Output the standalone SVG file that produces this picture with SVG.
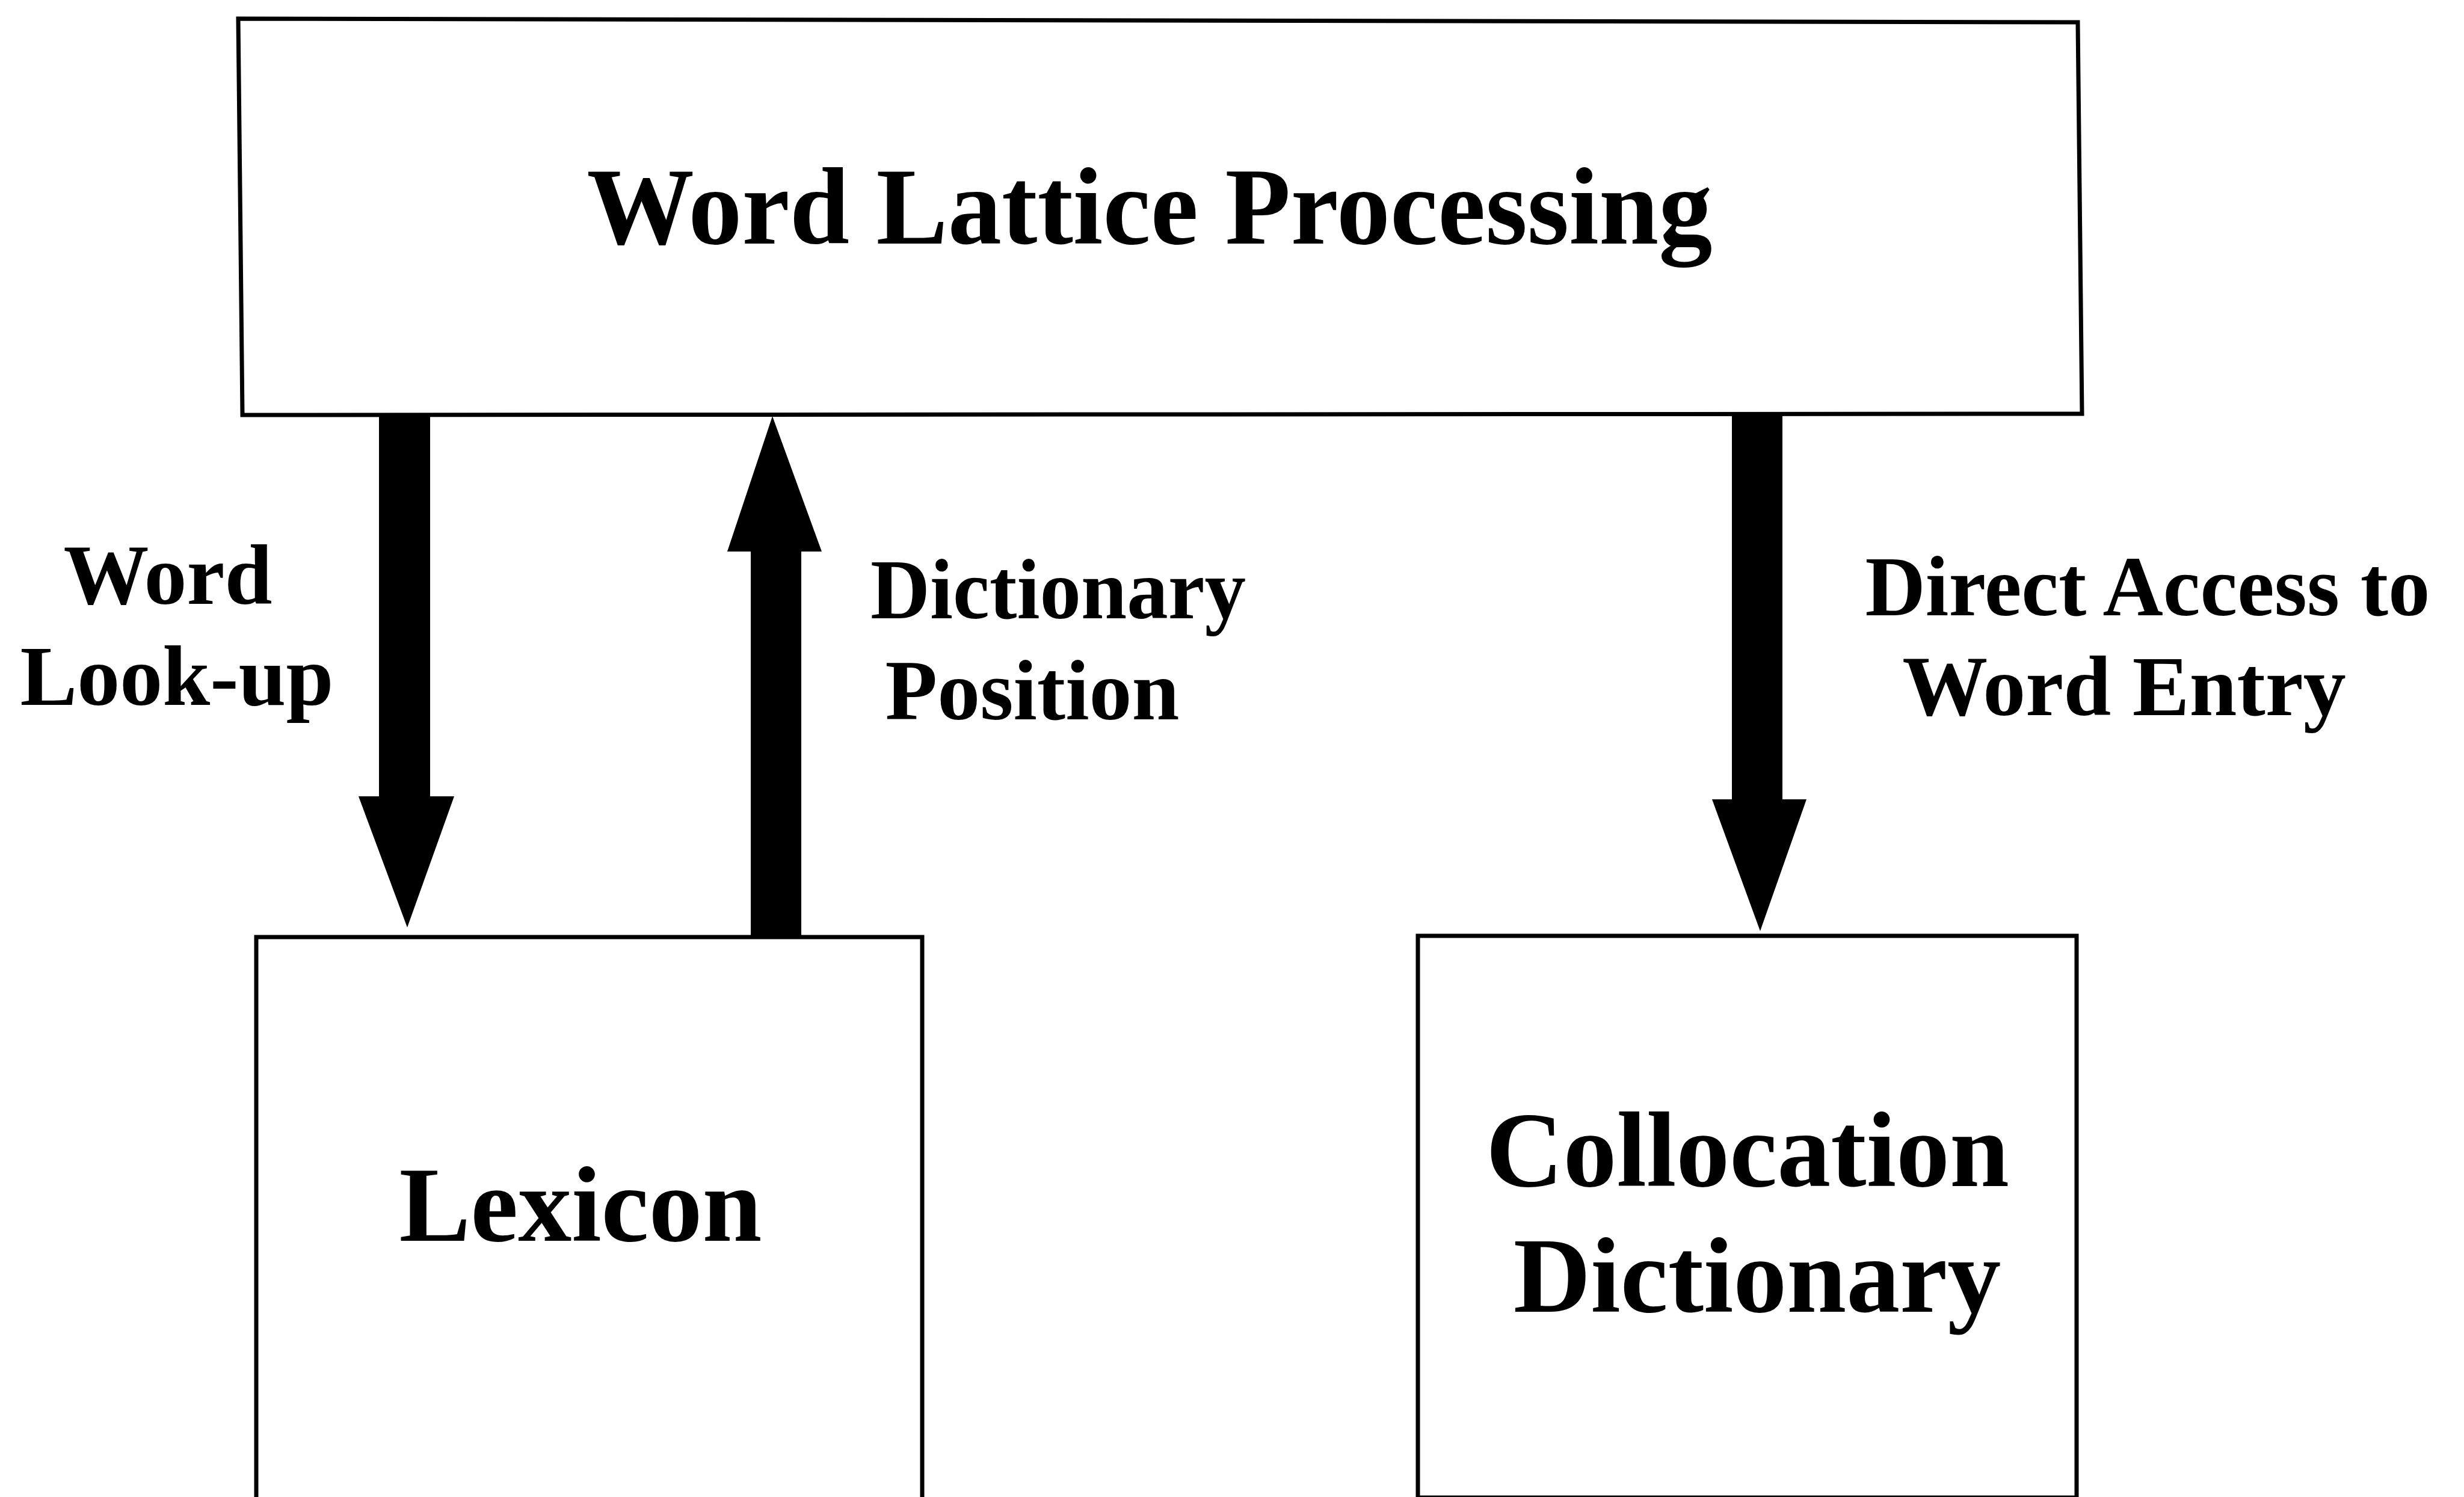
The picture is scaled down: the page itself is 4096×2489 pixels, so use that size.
<svg xmlns="http://www.w3.org/2000/svg" width="4096" height="2489" viewBox="0 0 4096 2489">
  <style>
    .box { fill: #ffffff; stroke: #000000; stroke-width: 7; stroke-linejoin: miter; }
    .arrow { fill: #000000; stroke: none; }
    .title { font-family: "Liberation Serif", "Times New Roman", serif; font-weight: bold; font-size: 182px; fill: #000000; text-anchor: middle; }
    .label { font-family: "Liberation Serif", "Times New Roman", serif; font-weight: bold; font-size: 142px; fill: #000000; text-anchor: middle; }
    .store { font-family: "Liberation Serif", "Times New Roman", serif; font-weight: bold; font-size: 178px; fill: #000000; text-anchor: middle; }
  </style>
  <rect x="0" y="0" width="4096" height="2489" fill="#ffffff"/>

  <!-- Top processing stage -->
  <g id="word-lattice-processing">
    <path class="box" d="M396,31 L3454,37 L3461,688 L403,690 Z"/>
    <text class="title" x="1911" y="405" textLength="1871" lengthAdjust="spacingAndGlyphs">Word Lattice Processing</text>
  </g>

  <!-- Lexicon store (runs past the lower edge) -->
  <g id="lexicon">
    <rect class="box" x="426" y="1558" width="1107" height="960"/>
    <text class="store" x="965" y="2063">Lexicon</text>
  </g>

  <!-- Collocation dictionary store -->
  <g id="collocation-dictionary">
    <rect class="box" x="2357" y="1556" width="1095" height="934"/>
    <text class="store" x="2905" y="1972">Collocation</text>
    <text class="store" x="2921" y="2181">Dictionary</text>
  </g>

  <!-- Block arrows between the stages -->
  <g id="connectors">
    <!-- Word look-up: processing -> lexicon -->
    <path class="arrow" d="M630,688 L715,688 L715,1324 L755,1324 L677,1542 L596,1324 L630,1324 Z"/>
    <!-- Dictionary position: lexicon -> processing -->
    <path class="arrow" d="M1248,1560 L1248,917 L1209,917 L1284,692 L1366,917 L1332,917 L1332,1560 Z"/>
    <!-- Direct access to word entry: processing -> collocation dictionary -->
    <path class="arrow" d="M2879,688 L2963,688 L2963,1329 L3003,1329 L2926,1548 L2846,1329 L2879,1329 Z"/>
  </g>

  <!-- Connector labels -->
  <g id="labels">
    <text class="label" x="279" y="1004">Word</text>
    <text class="label" x="294" y="1172">Look-up</text>
    <text class="label" x="1759" y="1028" textLength="624" lengthAdjust="spacingAndGlyphs">Dictionary</text>
    <text class="label" x="1716" y="1196">Position</text>
    <text class="label" x="3570" y="1023" textLength="939" lengthAdjust="spacingAndGlyphs">Direct Access to</text>
    <text class="label" x="3531" y="1189">Word Entry</text>
  </g>
</svg>
